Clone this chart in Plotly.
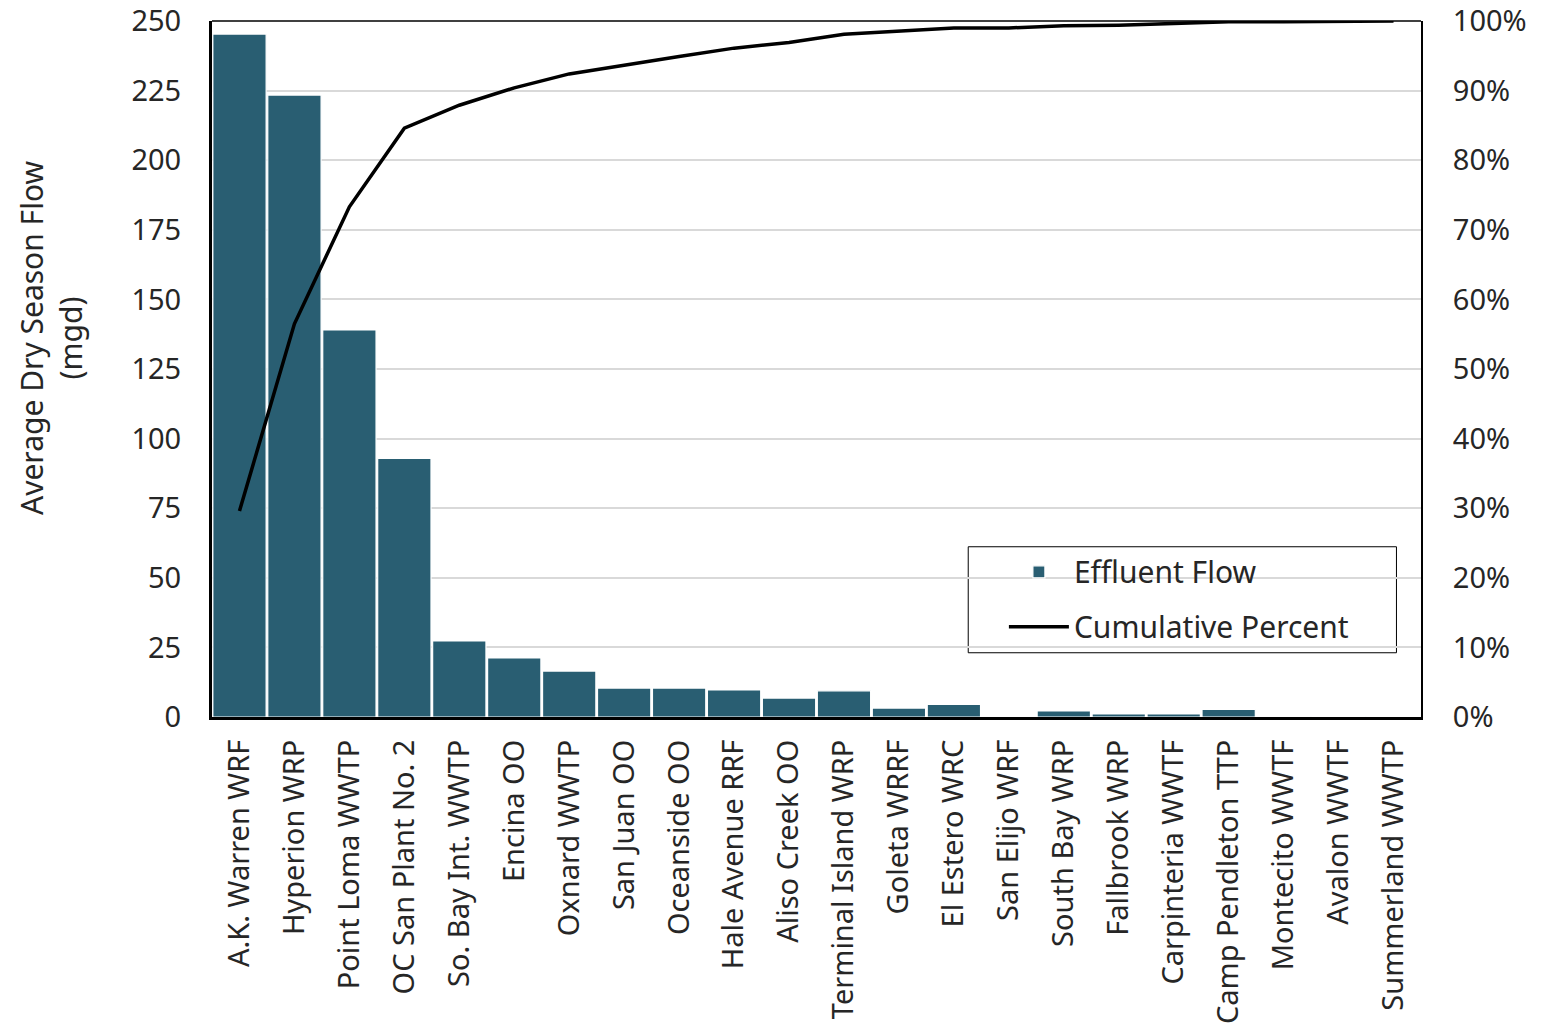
import plotly.graph_objects as go

facilities = [
    "A.K. Warren WRF", "Hyperion WRP", "Point Loma WWTP", "OC San Plant No. 2",
    "So. Bay Int. WWTP", "Encina OO", "Oxnard WWTP", "San Juan OO", "Oceanside OO",
    "Hale Avenue RRF", "Aliso Creek OO", "Terminal Island WRP", "Goleta WRRF",
    "El Estero WRC", "San Elijo WRF", "South Bay WRP", "Fallbrook WRP",
    "Carpinteria WWTF", "Camp Pendleton TTP", "Montecito WWTF", "Avalon WWTF",
    "Summerland WWTP",
]
effluent_flow = [245.3, 223.4, 139.0, 92.9, 27.3, 21.2, 16.5, 10.4, 10.4, 9.7, 6.8,
                 9.4, 3.2, 4.5, 0.3, 2.2, 1.1, 1.1, 2.7, 0.2, 0.2, 0.1]
cumulative_percent = [29.6, 56.5, 73.3, 84.6, 87.9, 90.4, 92.4, 93.7, 94.9, 96.1, 96.9,
                      98.1, 98.5, 99.0, 99.0, 99.3, 99.4, 99.6, 99.9, 99.9, 100.0, 100.0]
left_ticks = [0, 25, 50, 75, 100, 125, 150, 175, 200, 225, 250]
right_ticks = [0, 10, 20, 30, 40, 50, 60, 70, 80, 90, 100]
y_title = "Average Dry Season Flow<br>(mgd)"

FONT = "Noto Sans"
TXT = "#262626"
FS = 29

fig = go.Figure()
fig.add_trace(go.Bar(
    x=facilities, y=effluent_flow, name="Effluent Flow", legendgroup="a",
    marker=dict(color="#295E72", line=dict(color="white", width=1.2)),
    yaxis="y",
))
fig.add_trace(go.Scatter(
    x=facilities, y=cumulative_percent, name="Cumulative Percent", legendgroup="b",
    mode="lines", line=dict(color="black", width=3.5), yaxis="y2",
))

fig.update_layout(
    width=1557, height=1031,
    margin=dict(l=212, r=136, t=21, b=314, autoexpand=False),
    paper_bgcolor="white", plot_bgcolor="white",
    font=dict(family=FONT, size=FS, color=TXT),
    bargap=0.03,
    showlegend=True,
    legend=dict(
        x=0.655, y=0.246, xanchor="left", yanchor="top",
        bgcolor="rgba(0,0,0,0)", borderwidth=0,
        font=dict(family=FONT, size=30, color=TXT),
        tracegroupgap=13, itemwidth=60,
    ),
    xaxis=dict(
        type="category", tickangle=-90, showgrid=False,
        showline=True, linecolor="black", linewidth=3,
        ticks="", ticklabelstandoff=8,
        tickfont=dict(family=FONT, size=29, color=TXT),
        range=[-0.5, len(facilities) - 0.5],
    ),
    yaxis=dict(
        range=[0, 250], tickvals=left_ticks, ticktext=[str(v) for v in left_ticks],
        showgrid=True, gridcolor="#D9D9D9", gridwidth=2,
        showline=True, linecolor="black", linewidth=3,
        zeroline=False, ticks="", ticklabelstandoff=22,
        tickfont=dict(family=FONT, size=FS, color=TXT),
    ),
    yaxis2=dict(
        range=[0, 100], overlaying="y", side="right",
        tickvals=right_ticks, ticktext=[f"{v}%" for v in right_ticks],
        showgrid=False, showline=True, linecolor="black", linewidth=2,
        zeroline=False, ticks="", ticklabelstandoff=24,
        tickfont=dict(family=FONT, size=FS, color=TXT),
    ),
    annotations=[
        dict(text=y_title, textangle=-90, xref="paper", yref="paper",
             x=-0.1332, y=0.5445, xanchor="center", yanchor="middle",
             showarrow=False, align="center",
             font=dict(family=FONT, size=30, color=TXT)),
    ],
    shapes=[
        dict(type="line", xref="paper", yref="paper", x0=0, x1=1, y0=1, y1=1,
             line=dict(color="black", width=1.5)),
        dict(type="rect", xref="paper", yref="paper", x0=0.6255, x1=0.9797,
             y0=0.0923, y1=0.2446, line=dict(color="black", width=1),
             fillcolor="white", layer="below"),
    ],
)

fig.write_html("out.html")
